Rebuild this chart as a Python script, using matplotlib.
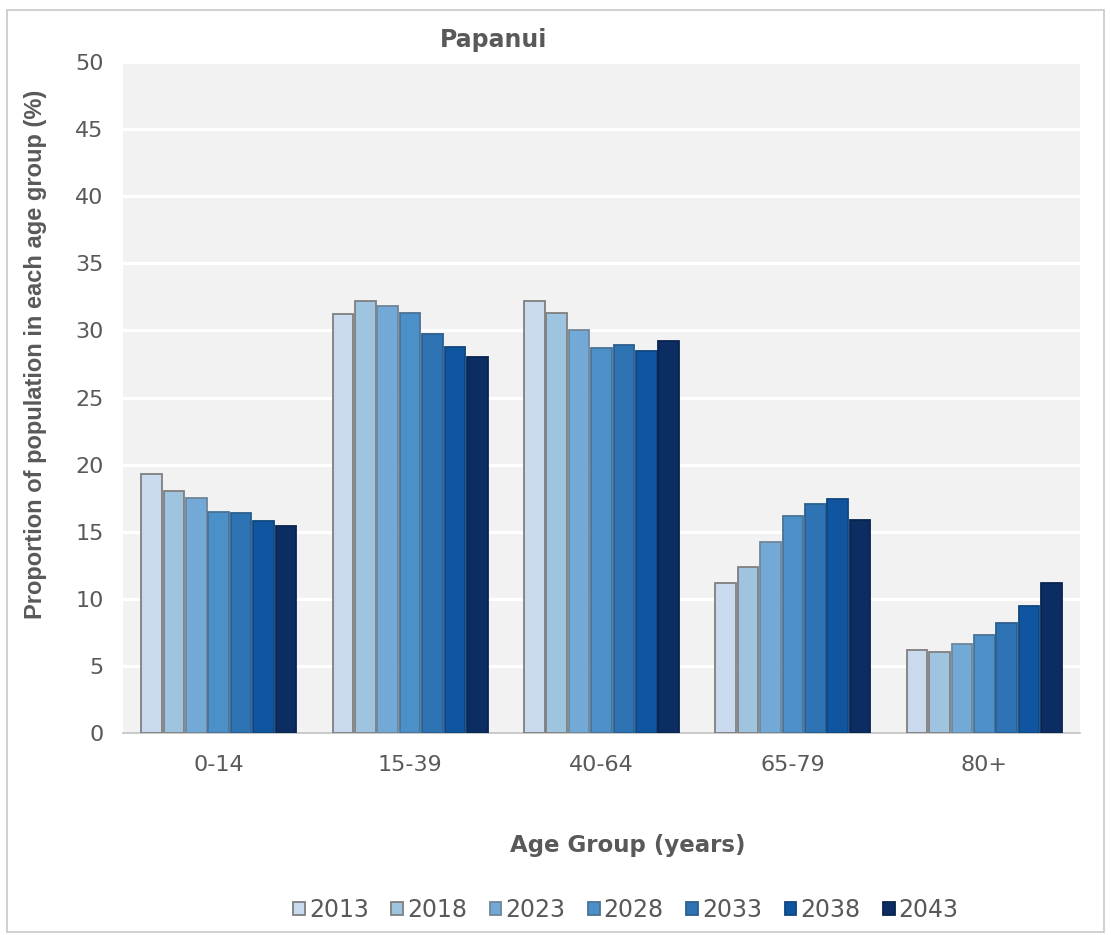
import matplotlib
matplotlib.use("Agg")
import matplotlib.pyplot as plt
from matplotlib.patches import Rectangle
import numpy as np

plt.rcParams['font.family'] = ['DejaVu Sans']

age_groups = ["0-14", "15-39", "40-64", "65-79", "80+"]
years = ["2013", "2018", "2023", "2028", "2033", "2038", "2043"]

share_2013 = [19.3, 31.2, 32.2, 11.2, 6.2]
share_2018 = [18.0, 32.2, 31.3, 12.4, 6.0]
share_2023 = [17.5, 31.8, 30.0, 14.2, 6.6]
share_2028 = [16.5, 31.3, 28.7, 16.2, 7.3]
share_2033 = [16.4, 29.7, 28.9, 17.1, 8.2]
share_2038 = [15.8, 28.8, 28.5, 17.4, 9.5]
share_2043 = [15.4, 28.0, 29.2, 15.9, 11.2]
series = [share_2013, share_2018, share_2023, share_2028,
          share_2033, share_2038, share_2043]

fills = ["#c9daee", "#9fc4e0", "#72a9d6", "#4b90c8", "#2e74b5", "#0f55a0", "#0c2d62"]
edges = ["#7f7f7f", "#7f7f7f", "#6f8699", "#4a7396", "#2b5f8e", "#0e467f", "#0a2450"]
text_grey = "#595959"

W, H = 1111, 935
fig = plt.figure(figsize=(W / 100, H / 100), dpi=100)
fig.patches.append(Rectangle((7 / W, 3 / H), 1097 / W, 922 / H,
                             transform=fig.transFigure, fill=False,
                             edgecolor="#c8c8c8", linewidth=1.2))

ax = fig.add_axes([123 / W, 1 - 733 / H, (1080 - 123) / W, (733 - 62) / H])
ax.set_facecolor("#f2f2f2")

x = np.arange(len(age_groups))
step = 0.117
width = 0.108
for i, (vals, fc, ec) in enumerate(zip(series, fills, edges)):
    ax.bar(x + (i - 3) * step, vals, width, color=fc, edgecolor=ec,
           linewidth=1.3, label=years[i], zorder=3)

ax.set_ylim(0, 50)
ax.set_xlim(-0.5, len(age_groups) - 0.5)
ax.set_yticks(range(0, 51, 5))
ax.yaxis.grid(True, color="white", linewidth=2.2, zorder=1)
ax.set_axisbelow(True)
for side in ("top", "right", "left"):
    ax.spines[side].set_visible(False)
ax.spines["bottom"].set_color("#c0c0c0")
ax.spines["bottom"].set_linewidth(1.2)
ax.tick_params(axis="both", length=0, labelsize=16, labelcolor=text_grey)
ax.tick_params(axis="y", pad=14)
ax.tick_params(axis="x", pad=16)
ax.set_xticks(x)
ax.set_xticklabels(age_groups)

# Axis titles and chart title
fig.text(628 / W, 1 - 852 / H, "Age Group (years)", fontsize=16.5,
         fontweight="bold", color=text_grey, ha="center", va="baseline")
fig.text(36 / W, 1 - 354 / H, "Proportion of population in each age group (%)",
         fontsize=17, fontweight="bold", color=text_grey, rotation=90,
         ha="center", va="center", family="Liberation Sans")
fig.text(494 / W, 1 - 47 / H, "Papanui", fontsize=17, fontweight="bold",
         color=text_grey, ha="center", va="baseline")

leg = fig.legend(loc="center", bbox_to_anchor=(626 / W, 1 - 910 / H),
                 ncol=7, frameon=False, fontsize=17, handlelength=0.5,
                 handleheight=0.5, handletextpad=0.17, columnspacing=0.95,
                 borderpad=0, borderaxespad=0)
for t in leg.get_texts():
    t.set_color(text_grey)

fig.savefig("out.png", dpi=100)
